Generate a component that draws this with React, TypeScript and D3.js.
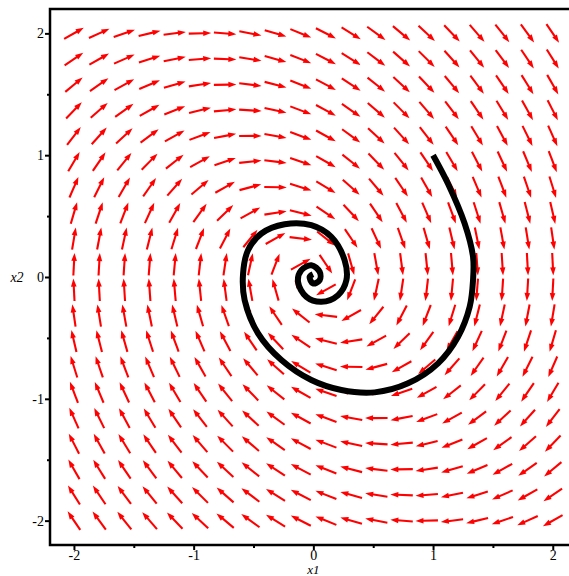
import React, { useRef, useEffect } from 'react';
import * as d3 from 'd3';

// direction field grid (20 x 20 from -2 to 2)
const gridX = [-2, -1.789, -1.579, -1.368, -1.158, -0.947, -0.737, -0.526, -0.316, -0.105,
  0.105, 0.316, 0.526, 0.737, 0.947, 1.158, 1.368, 1.579, 1.789, 2];
const gridY = gridX;

// linear system x' = A x, coefficients
const rowX1 = [0, 1];      // x1' = 0*x1 + 1*x2
const rowX2 = [-1, -0.45]; // x2' = -x1 - 0.45*x2

// solution curve through (1, 1)
const trajX = [1.0, 1.125, 1.264, 1.334, 1.334, 1.306, 1.209, 1.042, 0.791, 0.512, 0.234, -0.017,
  -0.267, -0.462, -0.574, -0.587, -0.546, -0.434, -0.24, -0.017, 0.15, 0.261, 0.276, 0.206,
  0.067, -0.058, -0.128, -0.1, -0.017, 0.053, 0.053, -0.003, -0.031, -0.003];
const trajY = [1.0, 0.766, 0.439, 0.165, -0.026, -0.245, -0.491, -0.709, -0.873, -0.947, -0.928, -0.846,
  -0.682, -0.463, -0.19, 0.029, 0.22, 0.357, 0.433, 0.425, 0.329, 0.138, -0.026, -0.149,
  -0.204, -0.163, -0.04, 0.056, 0.097, 0.042, -0.026, -0.053, 0.001, 0.023];

const majorTicks = [-2, -1, 0, 1, 2];
const minorTicks = [-1.5, -0.5, 0.5, 1.5];

const PhasePlot = ({ width = 569, height = 576 }) => {
  const svgRef = useRef<SVGSVGElement>(null);

  useEffect(() => {
    const svg = d3.select(svgRef.current)
      .attr('width', width)
      .attr('height', height)
      .html('');

    const x = d3.scaleLinear().domain([-2.2, 2.2]).range([50, 576.7]);
    const y = d3.scaleLinear().domain([-2.2, 2.2]).range([545, 9]);

    // --- Arrows ---
    const arrowLen = 22.5;
    const headLen = 8;
    const headHalf = 2.8;
    const arrows = svg.append('g');
    gridX.forEach(gx => {
      gridY.forEach(gy => {
        const vx = rowX1[0] * gx + rowX1[1] * gy;
        const vy = rowX2[0] * gx + rowX2[1] * gy;
        // screen-space direction
        let dx = x(gx + vx) - x(gx);
        let dy = y(gy + vy) - y(gy);
        const n = Math.hypot(dx, dy) || 1;
        dx /= n; dy /= n;
        const cx = x(gx), cy = y(gy);
        const tx = cx - dx * arrowLen / 2, ty = cy - dy * arrowLen / 2;
        const hx = cx + dx * arrowLen / 2, hy = cy + dy * arrowLen / 2;
        const bx = hx - dx * headLen, by = hy - dy * headLen;
        arrows.append('line')
          .attr('x1', tx).attr('y1', ty)
          .attr('x2', bx + dx).attr('y2', by + dy)
          .attr('stroke', '#ff0000')
          .attr('stroke-width', 2.1);
        arrows.append('path')
          .attr('d', `M${hx},${hy}L${bx - dy * headHalf},${by + dx * headHalf}L${bx + dy * headHalf},${by - dx * headHalf}Z`)
          .attr('fill', '#ff0000');
      });
    });

    // --- Solution curve ---
    const pts = trajX.map((v, i) => [v, trajY[i]] as [number, number]);
    const line = d3.line<[number, number]>()
      .x(d => x(d[0]))
      .y(d => y(d[1]))
      .curve(d3.curveCatmullRom.alpha(0.5));
    svg.append('path')
      .datum(pts)
      .attr('fill', 'none')
      .attr('stroke', '#000')
      .attr('stroke-width', 6)
      .attr('stroke-linejoin', 'round')
      .attr('d', line);

    // --- Axes ---
    const font = '"Liberation Serif", "Times New Roman", serif';
    const gx = svg.append('g').attr('transform', `translate(0,${y(-2.2)})`);
    gx.call(d3.axisBottom(x).tickValues(majorTicks).tickSize(5).tickSizeOuter(0).tickPadding(0)
      .tickFormat(d => String(d)));
    gx.append('g').call(d3.axisBottom(x).tickValues(minorTicks).tickSize(3).tickSizeOuter(0)
      .tickFormat(() => ''));

    const gy = svg.append('g').attr('transform', `translate(${x(-2.2)},0)`);
    gy.call(d3.axisLeft(y).tickValues(majorTicks).tickSize(5).tickSizeOuter(0).tickPadding(1)
      .tickFormat(d => String(d)));
    gy.append('g').call(d3.axisLeft(y).tickValues(minorTicks).tickSize(3).tickSizeOuter(0)
      .tickFormat(() => ''));

    svg.selectAll('.domain').remove();
    gx.attr('font-family', font).attr('font-size', 14);
    gy.attr('font-family', font).attr('font-size', 14);
    svg.selectAll('.tick line').attr('stroke', '#000').attr('stroke-width', 2);
    svg.selectAll('.tick text')
      .attr('fill', '#000')
      .style('font-family', font)
      .style('font-size', '14px');

    // frame lines
    svg.append('path')
      .attr('d', `M${x(-2.2)},${y(-2.2)}V${y(2.2)}H${x(2.2)}V${y(-2.2)}Z`)
      .attr('fill', 'none')
      .attr('stroke', '#000')
      .attr('stroke-width', 2.5);

    // axis labels
    svg.append('text')
      .attr('x', x(0))
      .attr('y', 574)
      .attr('text-anchor', 'middle')
      .style('font-family', font)
      .style('font-style', 'italic')
      .style('font-size', '13px')
      .text('x1');
    svg.append('text')
      .attr('x', 17)
      .attr('y', y(0) + 5)
      .attr('text-anchor', 'middle')
      .style('font-family', font)
      .style('font-style', 'italic')
      .style('font-size', '14px')
      .text('x2');
  }, [width, height]);

  return <svg ref={svgRef} style={{ display: 'block' }}></svg>;
};

export default function App() {
  return (
    <div style={{ position: 'absolute', left: 0, top: 0, background: '#fff' }}>
      <PhasePlot />
    </div>
  );
}
